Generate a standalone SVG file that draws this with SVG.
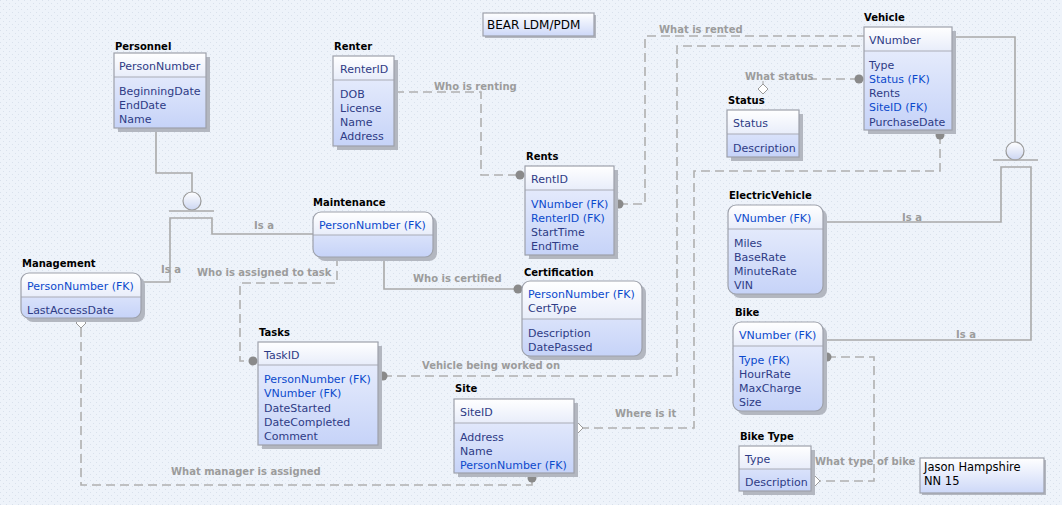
<svg xmlns="http://www.w3.org/2000/svg" width="1062" height="505" viewBox="0 0 1062 505">
<defs>
<pattern id="bg" width="6" height="6" patternUnits="userSpaceOnUse">
<rect width="6" height="6" fill="#eef3fa"/>
<rect x="0" y="0" width="1" height="1" fill="#d9e1ec"/>
<rect x="3" y="3" width="1" height="1" fill="#d9e1ec"/>
</pattern>
<linearGradient id="gBody" x1="0" y1="0" x2="0" y2="1">
<stop offset="0" stop-color="#eef2fd"/>
<stop offset="1" stop-color="#c6d3f8"/>
</linearGradient>
<linearGradient id="gHead" x1="0" y1="0" x2="0" y2="1">
<stop offset="0" stop-color="#ffffff"/>
<stop offset="1" stop-color="#e8edfa"/>
</linearGradient>
<linearGradient id="gNote" x1="0" y1="0" x2="0" y2="1">
<stop offset="0" stop-color="#ffffff"/>
<stop offset="1" stop-color="#cdd8f8"/>
</linearGradient>
<linearGradient id="gCirc" x1="0" y1="0" x2="0" y2="1">
<stop offset="0" stop-color="#ffffff"/>
<stop offset="1" stop-color="#ccd6f2"/>
</linearGradient>
</defs>
<style>
.title{font-family:"DejaVu Sans",sans-serif;font-size:10px;font-weight:bold;fill:#000}
.a{font-family:"DejaVu Sans",sans-serif;font-size:11px;fill:#2e3b85}
.fk{font-family:"DejaVu Sans",sans-serif;font-size:11px;fill:#0b49cc}
.note{font-family:"DejaVu Sans",sans-serif;font-size:11.5px;fill:#000}
.lbl{font-family:"DejaVu Sans",sans-serif;font-size:10px;font-weight:bold;fill:#9c9c9c}
.shadow{fill:#b3b7c0}
.body{fill:url(#gBody)}
.head{fill:url(#gHead)}
.frame{fill:none;stroke:#9da1ab;stroke-width:1.2}
.sep{stroke:#a9acb6;stroke-width:1.2}
.solid{fill:none;stroke:#a9a9a9;stroke-width:1.6}
.dash{fill:none;stroke:#b0b0b0;stroke-width:1.6;stroke-dasharray:9 5}
.dot{fill:#8a8a8a}
.dia{fill:#ffffff;stroke:#9a9a9a;stroke-width:1}
.circ{fill:url(#gCirc);stroke:#9a9a9a;stroke-width:1.2}
</style>
<rect width="1062" height="505" fill="url(#bg)"/>

<g id="connectors">
<!-- Personnel subtype -->
<path class="solid" d="M156,128 V173 H192 V192"/>
<circle class="circ" cx="192" cy="201" r="9"/>
<path class="solid" d="M169,211 H214"/>
<path class="solid" d="M141,282 H170 V218 H212 V234 H313"/>
<!-- Vehicle subtype -->
<path class="solid" d="M952,37 H1015 V142"/>
<circle class="circ" cx="1015" cy="151" r="9"/>
<path class="solid" d="M993,160 H1038"/>
<path class="solid" d="M823,222 H1001 V167 H1031 V340 H823"/>
<!-- Who is certified -->
<path class="solid" d="M384,257 V289 H517"/>
<circle class="dot" cx="518" cy="289" r="4.5"/>
<!-- Who is renting -->
<path class="dash" d="M395,92 H481 V175 H518"/>
<circle class="dot" cx="520" cy="175" r="4.5"/>
<!-- What is rented -->
<path class="dash" d="M619,204 H645 V36 H864"/>
<circle class="dot" cx="619" cy="204" r="4.5"/>
<!-- Vehicle being worked on -->
<path class="dash" d="M383,376 H677 V46 H864"/>
<circle class="dot" cx="383" cy="376" r="4.5"/>
<!-- What status -->
<path class="dash" d="M859,79 H811"/>
<path class="solid" d="M763,81 V85" style="stroke:#a0a0a0;stroke-width:1"/>
<circle class="dot" cx="859" cy="79" r="4.5"/>
<path class="dia" d="M763,84 L768,89 L763,94 L758,89 Z"/>
<!-- Where is it -->
<path class="dash" d="M940,135 V171 H694 V428 H583"/>
<circle class="dot" cx="940" cy="135" r="4.5"/>
<path class="dia" d="M578,423 L583,428 L578,433 L573,428 Z"/>
<!-- Who is assigned to task -->
<path class="dash" d="M337,257 V283 H240 V361 H253"/>
<circle class="dot" cx="253" cy="361" r="4.5"/>
<!-- What manager is assigned -->
<path class="dash" d="M81,328 V485 H532 V478"/>
<path class="dia" d="M81,318 L86,323 L81,328 L76,323 Z"/>
<circle class="dot" cx="532" cy="478" r="4.5"/>
<!-- What type of bike -->
<path class="dash" d="M827,357 H874 V481 H820"/>
<circle class="dot" cx="827" cy="357" r="4.5"/>
<path class="dia" d="M815,476 L820,481 L815,486 L810,481 Z"/>
<!-- labels -->
<text class="lbl" x="659" y="33">What is rented</text>
<text class="lbl" x="434" y="90">Who is renting</text>
<text class="lbl" x="745" y="80">What status</text>
<text class="lbl" x="254" y="229">Is a</text>
<text class="lbl" x="161" y="273">Is a</text>
<text class="lbl" x="197" y="276">Who is assigned to task</text>
<text class="lbl" x="413" y="282">Who is certified</text>
<text class="lbl" x="422" y="369">Vehicle being worked on</text>
<text class="lbl" x="615" y="417">Where is it</text>
<text class="lbl" x="171" y="475">What manager is assigned</text>
<text class="lbl" x="902" y="221">Is a</text>
<text class="lbl" x="956" y="338">Is a</text>
<text class="lbl" x="815" y="465">What type of bike</text>
</g>

<g id="title-note">
<rect class="shadow" x="485" y="15" width="111" height="23"/>
<rect x="483" y="13" width="111" height="23" fill="url(#gNote)" stroke="#9da1ab" stroke-width="1.2"/>
<text class="note" x="487" y="29" style="font-size:12px">BEAR LDM/PDM</text>
</g>

<g id="author-note">
<rect class="shadow" x="922" y="460" width="124" height="35"/>
<rect x="920" y="458" width="124" height="35" fill="url(#gNote)" stroke="#9da1ab" stroke-width="1.2"/>
<text class="note" x="924" y="471">Jason Hampshire</text>
<text class="note" x="924" y="485">NN 15</text>
</g>

<g id="personnel">
<text class="title" x="115" y="50">Personnel</text>
<rect class="shadow" x="118" y="57" width="92" height="75"/>
<rect class="body" x="114" y="53" width="92" height="75"/>
<rect class="head" x="114" y="53" width="92" height="24"/>
<line class="sep" x1="114" y1="77" x2="206" y2="77"/>
<rect class="frame" x="114" y="53" width="92" height="75"/>
<text class="a" x="119" y="70">PersonNumber</text>
<text class="a" x="119" y="94.5">BeginningDate</text>
<text class="a" x="119" y="108.8">EndDate</text>
<text class="a" x="119" y="123.1">Name</text>
</g>

<g id="renter">
<text class="title" x="334" y="50">Renter</text>
<rect class="shadow" x="337" y="60" width="61" height="90"/>
<rect class="body" x="333" y="56" width="61" height="90"/>
<rect class="head" x="333" y="56" width="61" height="24"/>
<line class="sep" x1="333" y1="80" x2="394" y2="80"/>
<rect class="frame" x="333" y="56" width="61" height="90"/>
<text class="a" x="340" y="73">RenterID</text>
<text class="a" x="340" y="97.5">DOB</text>
<text class="a" x="340" y="111.8">License</text>
<text class="a" x="340" y="126.1">Name</text>
<text class="a" x="340" y="140.4">Address</text>
</g>

<g id="rents">
<text class="title" x="526" y="160">Rents</text>
<rect class="shadow" x="529" y="170" width="89" height="89"/>
<rect class="body" x="525" y="166" width="89" height="89"/>
<rect class="head" x="525" y="166" width="89" height="24"/>
<line class="sep" x1="525" y1="190" x2="614" y2="190"/>
<rect class="frame" x="525" y="166" width="89" height="89"/>
<text class="a" x="531" y="183">RentID</text>
<text class="fk" x="531" y="207.5">VNumber (FK)</text>
<text class="fk" x="531" y="221.8">RenterID (FK)</text>
<text class="a" x="531" y="236.1">StartTime</text>
<text class="a" x="531" y="250.4">EndTime</text>
</g>

<g id="vehicle">
<text class="title" x="864" y="21">Vehicle</text>
<rect class="shadow" x="868" y="31" width="88" height="103"/>
<rect class="body" x="864" y="27" width="88" height="103"/>
<rect class="head" x="864" y="27" width="88" height="24"/>
<line class="sep" x1="864" y1="51" x2="952" y2="51"/>
<rect class="frame" x="864" y="27" width="88" height="103"/>
<text class="a" x="869" y="44">VNumber</text>
<text class="a" x="869" y="68.5">Type</text>
<text class="fk" x="869" y="82.8">Status (FK)</text>
<text class="a" x="869" y="97.1">Rents</text>
<text class="fk" x="869" y="111.4">SiteID (FK)</text>
<text class="a" x="869" y="125.7">PurchaseDate</text>
</g>

<g id="status">
<text class="title" x="728" y="104">Status</text>
<rect class="shadow" x="731" y="114" width="72" height="47"/>
<rect class="body" x="727" y="110" width="72" height="47"/>
<rect class="head" x="727" y="110" width="72" height="24"/>
<line class="sep" x1="727" y1="134" x2="799" y2="134"/>
<rect class="frame" x="727" y="110" width="72" height="47"/>
<text class="a" x="733" y="127">Status</text>
<text class="a" x="733" y="151.5">Description</text>
</g>

<g id="electricvehicle">
<text class="title" x="729" y="199">ElectricVehicle</text>
<rect class="shadow" x="732" y="209" width="95" height="89" rx="8"/>
<rect class="body" x="728" y="205" width="95" height="89" rx="8"/>
<path class="head" d="M728,229 V213 A8,8 0 0 1 736,205 H815 A8,8 0 0 1 823,213 V229 Z"/>
<line class="sep" x1="728" y1="229" x2="823" y2="229"/>
<rect class="frame" x="728" y="205" width="95" height="89" rx="8"/>
<text class="fk" x="734" y="222">VNumber (FK)</text>
<text class="a" x="734" y="246.5">Miles</text>
<text class="a" x="734" y="260.8">BaseRate</text>
<text class="a" x="734" y="275.1">MinuteRate</text>
<text class="a" x="734" y="289.4">VIN</text>
</g>

<g id="bike">
<text class="title" x="735" y="316">Bike</text>
<rect class="shadow" x="737" y="326" width="90" height="89" rx="8"/>
<rect class="body" x="733" y="322" width="90" height="89" rx="8"/>
<path class="head" d="M733,346 V330 A8,8 0 0 1 741,322 H815 A8,8 0 0 1 823,330 V346 Z"/>
<line class="sep" x1="733" y1="346" x2="823" y2="346"/>
<rect class="frame" x="733" y="322" width="90" height="89" rx="8"/>
<text class="fk" x="739" y="339">VNumber (FK)</text>
<text class="fk" x="739" y="363.5">Type (FK)</text>
<text class="a" x="739" y="377.8">HourRate</text>
<text class="a" x="739" y="392.1">MaxCharge</text>
<text class="a" x="739" y="406.4">Size</text>
</g>

<g id="biketype">
<text class="title" x="740" y="440">Bike Type</text>
<rect class="shadow" x="743" y="450" width="72" height="45"/>
<rect class="body" x="739" y="446" width="72" height="45"/>
<rect class="head" x="739" y="446" width="72" height="23"/>
<line class="sep" x1="739" y1="469" x2="811" y2="469"/>
<rect class="frame" x="739" y="446" width="72" height="45"/>
<text class="a" x="745" y="463">Type</text>
<text class="a" x="745" y="486">Description</text>
</g>

<g id="maintenance">
<text class="title" x="313" y="206">Maintenance</text>
<rect class="shadow" x="317" y="216" width="120" height="45" rx="8"/>
<rect class="body" x="313" y="212" width="120" height="45" rx="8"/>
<path class="head" d="M313,235 V220 A8,8 0 0 1 321,212 H425 A8,8 0 0 1 433,220 V235 Z"/>
<line class="sep" x1="313" y1="235" x2="433" y2="235"/>
<rect class="frame" x="313" y="212" width="120" height="45" rx="8"/>
<text class="fk" x="319" y="229">PersonNumber (FK)</text>
</g>

<g id="management">
<text class="title" x="22" y="267">Management</text>
<rect class="shadow" x="25" y="277" width="120" height="45" rx="8"/>
<rect class="body" x="21" y="273" width="120" height="45" rx="8"/>
<path class="head" d="M21,297 V281 A8,8 0 0 1 29,273 H133 A8,8 0 0 1 141,281 V297 Z"/>
<line class="sep" x1="21" y1="297" x2="141" y2="297"/>
<rect class="frame" x="21" y="273" width="120" height="45" rx="8"/>
<text class="fk" x="27" y="290">PersonNumber (FK)</text>
<text class="a" x="27" y="313.5">LastAccessDate</text>
</g>

<g id="certification">
<text class="title" x="524" y="276">Certification</text>
<rect class="shadow" x="526" y="285" width="120" height="75" rx="8"/>
<rect class="body" x="522" y="281" width="120" height="75" rx="8"/>
<path class="head" d="M522,319 V289 A8,8 0 0 1 530,281 H634 A8,8 0 0 1 642,289 V319 Z"/>
<line class="sep" x1="522" y1="319" x2="642" y2="319"/>
<rect class="frame" x="522" y="281" width="120" height="75" rx="8"/>
<text class="fk" x="528" y="298">PersonNumber (FK)</text>
<text class="a" x="528" y="312.3">CertType</text>
<text class="a" x="528" y="336.5">Description</text>
<text class="a" x="528" y="350.8">DatePassed</text>
</g>

<g id="tasks">
<text class="title" x="259" y="336">Tasks</text>
<rect class="shadow" x="262" y="346" width="120" height="103"/>
<rect class="body" x="258" y="342" width="120" height="103"/>
<rect class="head" x="258" y="342" width="120" height="23"/>
<line class="sep" x1="258" y1="365" x2="378" y2="365"/>
<rect class="frame" x="258" y="342" width="120" height="103"/>
<text class="a" x="264" y="359">TaskID</text>
<text class="fk" x="264" y="383">PersonNumber (FK)</text>
<text class="fk" x="264" y="397.3">VNumber (FK)</text>
<text class="a" x="264" y="411.6">DateStarted</text>
<text class="a" x="264" y="425.9">DateCompleted</text>
<text class="a" x="264" y="440">Comment</text>
</g>

<g id="site">
<text class="title" x="455" y="392">Site</text>
<rect class="shadow" x="458" y="403" width="120" height="74"/>
<rect class="body" x="454" y="399" width="120" height="74"/>
<rect class="head" x="454" y="399" width="120" height="24"/>
<line class="sep" x1="454" y1="423" x2="574" y2="423"/>
<rect class="frame" x="454" y="399" width="120" height="74"/>
<text class="a" x="460" y="416">SiteID</text>
<text class="a" x="460" y="440.5">Address</text>
<text class="a" x="460" y="454.8">Name</text>
<text class="fk" x="460" y="469.1">PersonNumber (FK)</text>
</g>
</svg>
